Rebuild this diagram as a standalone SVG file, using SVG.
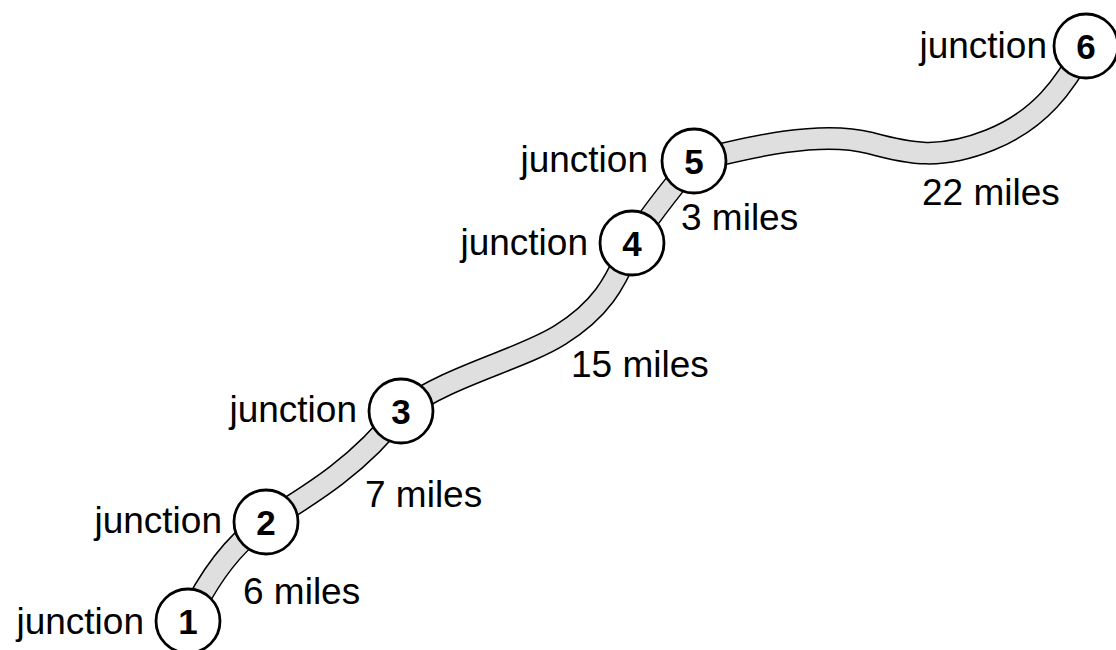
<svg xmlns="http://www.w3.org/2000/svg" width="1116" height="650" viewBox="0 0 1116 650">
<style>
.edge{fill:none;stroke:#000;stroke-width:23}
.fill{fill:none;stroke:#e0dfe0;stroke-width:20}
.node circle{fill:#fff;stroke:#000;stroke-width:2.8}
.lbl{font-family:"Liberation Sans",Arial,sans-serif;font-size:37px;fill:#000}
.num{font-family:"Liberation Sans",Arial,sans-serif;font-size:35px;font-weight:bold;text-anchor:middle;fill:#000}
.jl{text-anchor:end}
</style>
<rect width="1116" height="650" fill="#fff"/>
<g id="connectors">
<path id="r12" class="edge" d="M188,621 C205,585 230,545 266,522"/>
<path class="fill" d="M188,621 C205,585 230,545 266,522"/>
<path id="r23" class="edge" d="M266,522 C310,495 360,465 401,411"/>
<path class="fill" d="M266,522 C310,495 360,465 401,411"/>
<path id="r34" class="edge" d="M401,411 C450,375 520,360 560,335 S615,285 632,243"/>
<path class="fill" d="M401,411 C450,375 520,360 560,335 S615,285 632,243"/>
<path id="r45" class="edge" d="M632,243 C650,215 670,190 694,161"/>
<path class="fill" d="M632,243 C650,215 670,190 694,161"/>
<path id="r56" class="edge" d="M694,161 C750,147 820,130 870,143 C910,154 940,160 990,140 C1040,120 1065,85 1086,46"/>
<path class="fill" d="M694,161 C750,147 820,130 870,143 C910,154 940,160 990,140 C1040,120 1065,85 1086,46"/>
<text class="lbl" x="243" y="604">6 miles</text>
<text class="lbl" x="365" y="507">7 miles</text>
<text class="lbl" x="571" y="377">15 miles</text>
<text class="lbl" x="681" y="230">3 miles</text>
<text class="lbl" x="922" y="205">22 miles</text>
</g>
<g id="j1" class="node"><circle cx="188" cy="621" r="32"/><text class="num" x="188" y="634">1</text><text class="lbl jl" x="144" y="634">junction</text></g>
<g id="j2" class="node"><circle cx="266" cy="522" r="32"/><text class="num" x="266" y="535">2</text><text class="lbl jl" x="222" y="533">junction</text></g>
<g id="j3" class="node"><circle cx="401" cy="411" r="32"/><text class="num" x="401" y="424">3</text><text class="lbl jl" x="357" y="422">junction</text></g>
<g id="j4" class="node"><circle cx="632" cy="243" r="32"/><text class="num" x="632" y="256">4</text><text class="lbl jl" x="588" y="255">junction</text></g>
<g id="j5" class="node"><circle cx="694" cy="161" r="32"/><text class="num" x="694" y="174">5</text><text class="lbl jl" x="648" y="172">junction</text></g>
<g id="j6" class="node"><circle cx="1086" cy="46" r="32"/><text class="num" x="1086" y="59">6</text><text class="lbl jl" x="1047" y="58">junction</text></g>
</svg>
